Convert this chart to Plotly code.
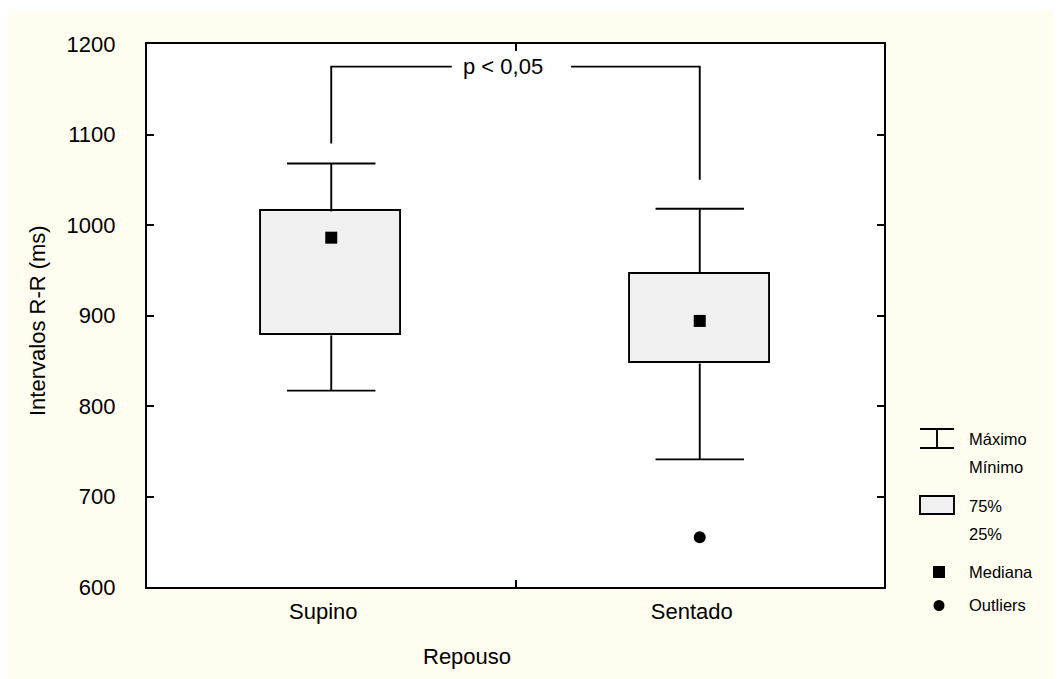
import plotly.graph_objects as go

# ---------------- data ----------------
CATEGORIES = ["Supino", "Sentado"]
MAXIMO = [1068, 1018]
Q3 = [1015, 946]
MEDIANA = [986, 894]
Q1 = [878, 847]
MINIMO = [817, 741]
OUTLIER_CAT = [1]
OUTLIER_VAL = [655]
Y_TICKS = [600, 700, 800, 900, 1000, 1100, 1200]
P_TEXT = "p < 0,05"
BRACKET_TOP = 1175
BRACKET_LEFT_BOTTOM = 1090
BRACKET_RIGHT_BOTTOM = 1050

FONT = "Liberation Sans, Arial, sans-serif"
CREAM = "#FEFDF0"
OFF = 8                     # browser body margin
W, H = 1062 - OFF, 679 - OFF
L, R, T, B = 147 - OFF, 178, 44 - OFF, 92
PW, PH = W - L - R, H - T - B
LW = 1.9

def px(xp):   # page pixel -> paper x
    return (xp - OFF - L) / PW

def py(yp):   # page pixel -> paper y
    return (H - B - (yp - OFF)) / PH

xs = list(range(len(CATEGORIES)))
CAP = 0.12

fig = go.Figure()

# boxes (Q1..Q3)
fig.add_trace(go.Bar(
    x=xs, base=Q1, y=[q3 - q1 for q1, q3 in zip(Q1, Q3)], width=0.38,
    marker=dict(color="#F0F0F0", line=dict(color="black", width=LW)),
    hoverinfo="skip", showlegend=False))

# whiskers (stems + caps) built from the data
wx, wy = [], []
for x, mx, q3, q1, mn in zip(xs, MAXIMO, Q3, Q1, MINIMO):
    wx += [x, x, None, x - CAP, x + CAP, None, x, x, None, x - CAP, x + CAP, None]
    wy += [q3, mx, None, mx, mx, None, q1, mn, None, mn, mn, None]
fig.add_trace(go.Scatter(x=wx, y=wy, mode="lines", line=dict(color="black", width=LW),
                         hoverinfo="skip", showlegend=False, connectgaps=False))

# medians
fig.add_trace(go.Scatter(
    x=xs, y=MEDIANA, mode="markers",
    marker=dict(symbol="square", size=12, color="black"),
    hoverinfo="skip", showlegend=False))
# outliers
fig.add_trace(go.Scatter(
    x=OUTLIER_CAT, y=OUTLIER_VAL, mode="markers",
    marker=dict(symbol="circle", size=12, color="black"),
    hoverinfo="skip", showlegend=False))

# significance bracket
gap_l, gap_r = 0.327, 0.651
fig.add_trace(go.Scatter(
    x=[xs[0], xs[0], gap_l], y=[BRACKET_LEFT_BOTTOM, BRACKET_TOP, BRACKET_TOP],
    mode="lines", line=dict(color="black", width=LW), hoverinfo="skip", showlegend=False))
fig.add_trace(go.Scatter(
    x=[gap_r, xs[1], xs[1]], y=[BRACKET_TOP, BRACKET_TOP, BRACKET_RIGHT_BOTTOM],
    mode="lines", line=dict(color="black", width=LW), hoverinfo="skip", showlegend=False))

annotations = [
    dict(x=0.4665, y=BRACKET_TOP, xref="x", yref="y", text=P_TEXT, showarrow=False,
         font=dict(family=FONT, size=22, color="black"), xanchor="center", yanchor="middle"),
    dict(x=px(38), y=py(321), xref="paper", yref="paper", text="Intervalos R-R (ms)",
         textangle=-90, showarrow=False, font=dict(family=FONT, size=22, color="black"),
         xanchor="center", yanchor="middle"),
    dict(x=px(467), y=py(657), xref="paper", yref="paper", text="Repouso",
         showarrow=False, font=dict(family=FONT, size=22, color="black"),
         xanchor="center", yanchor="middle"),
]
legend_texts = [("Máximo", 439), ("Mínimo", 467), ("75%", 506), ("25%", 534),
                ("Mediana", 572), ("Outliers", 605)]
for txt, yp in legend_texts:
    annotations.append(dict(x=px(967), y=py(yp), xref="paper", yref="paper", text=txt,
                            showarrow=False, font=dict(family=FONT, size=16.5, color="black"),
                            xanchor="left", yanchor="middle"))

line_k = dict(color="black", width=LW)
shapes = [
    # white top strip
    dict(type="rect", xref="paper", yref="paper", x0=px(OFF), x1=px(1062), y0=py(11), y1=py(OFF),
         fillcolor="white", line=dict(width=0), layer="below"),
    # legend: whisker symbol
    dict(type="line", xref="paper", yref="paper", x0=px(920), x1=px(954), y0=py(429), y1=py(429), line=line_k),
    dict(type="line", xref="paper", yref="paper", x0=px(920), x1=px(954), y0=py(448), y1=py(448), line=line_k),
    dict(type="line", xref="paper", yref="paper", x0=px(937), x1=px(937), y0=py(429), y1=py(448), line=line_k),
    # legend: box symbol
    dict(type="rect", xref="paper", yref="paper", x0=px(920), x1=px(954), y0=py(514), y1=py(496),
         fillcolor="#F0F0F0", line=line_k),
    # legend: median square
    dict(type="rect", xref="paper", yref="paper", x0=px(933), x1=px(945), y0=py(578), y1=py(566),
         fillcolor="black", line=dict(width=0)),
    # legend: outlier circle
    dict(type="circle", xref="paper", yref="paper", x0=px(933.5), x1=px(944.5), y0=py(611), y1=py(600),
         fillcolor="black", line=dict(width=0)),
]

fig.update_layout(
    width=W, height=H, autosize=False,
    margin=dict(l=L, r=R, t=T, b=B, pad=0),
    paper_bgcolor=CREAM, plot_bgcolor="white",
    font=dict(family=FONT, size=22, color="black"),
    showlegend=False, bargap=0,
    annotations=annotations, shapes=shapes,
    xaxis=dict(range=[-0.5, 1.5], tickmode="array", tickvals=xs, ticktext=CATEGORIES,
               ticks="", showline=True, linecolor="black", linewidth=2.2, mirror="ticks",
               showgrid=False, zeroline=False, ticklabelshift=-8, ticklabelstandoff=3,
               tickfont=dict(family=FONT, size=22, color="black"),
               minor=dict(tickmode="array", tickvals=[0.5], ticks="inside", ticklen=7,
                          tickwidth=1.5, tickcolor="black", showgrid=False)),
    yaxis=dict(range=[600, 1200], tickmode="array", tickvals=Y_TICKS,
               ticks="inside", ticklen=7, tickwidth=1.5, tickcolor="black",
               showline=True, linecolor="black", linewidth=2.2, mirror="ticks",
               showgrid=False, zeroline=False, ticklabelstandoff=25,
               tickfont=dict(family=FONT, size=22, color="black")),
)

fig.write_html("out.html")
